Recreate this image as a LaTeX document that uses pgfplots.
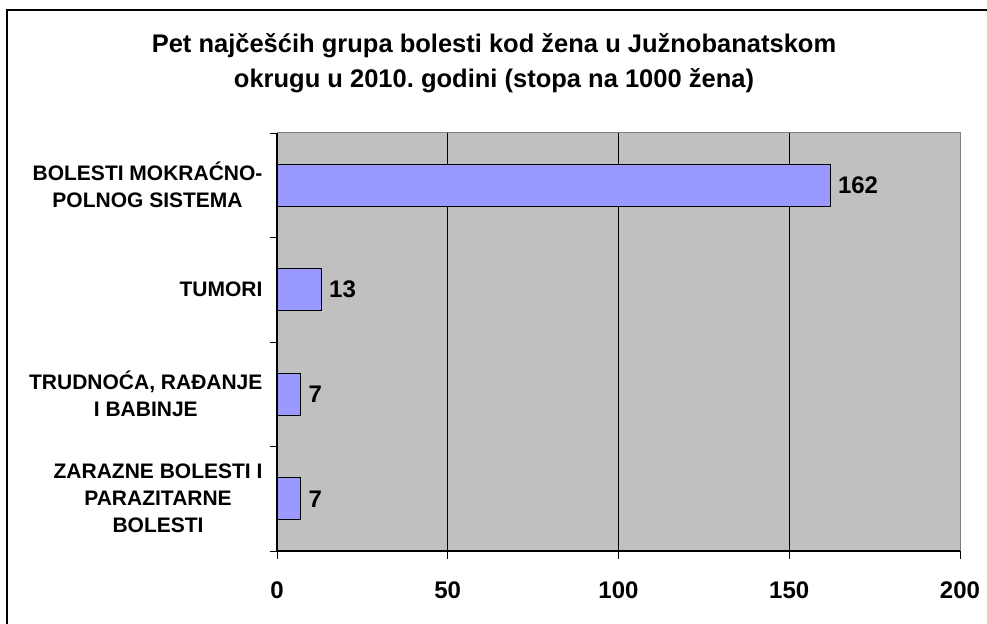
\documentclass[border=0pt]{standalone}
\usepackage{pgfplots}
\pgfplotsset{compat=1.18}
\usepackage{fontspec}
\setmainfont{Liberation Sans}
\frenchspacing
\definecolor{barblue}{HTML}{9999FF}
\definecolor{plotgray}{HTML}{C0C0C0}
\definecolor{edgegray}{HTML}{808080}
\begin{document}
\begin{tikzpicture}
\path[use as bounding box] (0bp,0bp) rectangle (987bp,624bp);
\draw[line width=1.2bp] (7bp,-5bp) -- (7bp,614bp) -- (995bp,614bp);
\node[align=center, font=\fontsize{25.5bp}{35.5bp}\selectfont\bfseries] at (494bp,561bp)
  {Pet najčešćih grupa bolesti kod žena u Južnobanatskom\\okrugu u 2010.\ godini (stopa na 1000 žena)};
\begin{axis}[
  at={(277bp,73bp)}, anchor=south west,
  scale only axis, width=683bp, height=418bp,
  xbar, bar width=42bp,
  xmin=0, xmax=200, ymin=-0.5, ymax=3.5,
  clip=false,
  axis background/.style={fill=plotgray},
  axis line style={draw=edgegray, line width=1bp},
  xtick={0,50,100,150,200},
  xticklabels={0,50,100,150,200},
  xmajorgrids, major grid style={black, line width=0.8bp},
  xtick pos=bottom, ytick pos=left,
  tick align=outside,
  major tick length=8bp,
  x tick style={black, line width=0.8bp},
  ytick={0,1,2,3},
  y tick style={draw=none},
  minor ytick={-0.5,0.5,1.5,2.5,3.5},
  minor tick length=7bp,
  minor y tick style={draw=black, line width=0.8bp},
  yticklabels={{ZARAZNE BOLESTI I\\PARAZITARNE\\BOLESTI},{TRUDNOĆA, RAĐANJE\\I BABINJE},{TUMORI},{BOLESTI MOKRAĆNO-\\POLNOG SISTEMA}},
  yticklabel style={align=center, font=\fontsize{21bp}{27bp}\selectfont\bfseries, xshift=-3bp},
  xticklabel style={font=\fontsize{24bp}{26bp}\selectfont\bfseries, yshift=-19bp},
  point meta=explicit symbolic,
  nodes near coords={\pgfplotspointmeta},
  nodes near coords style={font=\fontsize{24bp}{26bp}\selectfont\bfseries, anchor=west, xshift=4bp},
]
\addplot[draw=black, line width=1bp, fill=barblue] coordinates {(162,3) [162] (13,2) [13] (7,1) [7] (7,0) [7]};
\draw[black, line width=1.2bp] (rel axis cs:0,1) -- (rel axis cs:0,0) -- (rel axis cs:1,0);
\end{axis}
\end{tikzpicture}
\end{document}
